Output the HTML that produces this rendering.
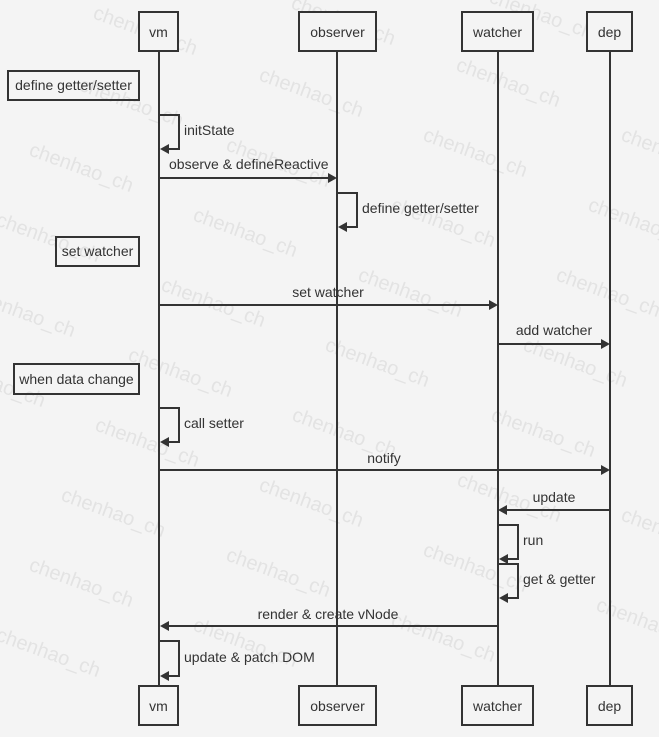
<!DOCTYPE html>
<html><head><meta charset="utf-8"><style>
html,body{margin:0;padding:0;background:#f4f4f4;}
svg{display:block;font-family:"Liberation Sans","DejaVu Sans",sans-serif;}
.w{fill:#e3e3e3;font-size:20px;}
.t{fill:#333;font-size:14px;}
</style></head><body>
<svg width="659" height="737" viewBox="0 0 659 737" xmlns="http://www.w3.org/2000/svg">
<rect width="659" height="737" fill="#f4f4f4"/>
<g class="w">
<text transform="translate(92,18) rotate(20)">chenhao_ch</text>
<text transform="translate(290,8) rotate(20)">chenhao_ch</text>
<text transform="translate(488,2) rotate(20)">chenhao_ch</text>
<text transform="translate(78,90) rotate(20)">chenhao_ch</text>
<text transform="translate(258,80) rotate(20)">chenhao_ch</text>
<text transform="translate(455,70) rotate(20)">chenhao_ch</text>
<text transform="translate(620,140) rotate(20)">chenhao_ch</text>
<text transform="translate(28,155) rotate(20)">chenhao_ch</text>
<text transform="translate(225,150) rotate(20)">chenhao_ch</text>
<text transform="translate(422,140) rotate(20)">chenhao_ch</text>
<text transform="translate(587,210) rotate(20)">chenhao_ch</text>
<text transform="translate(-5,225) rotate(20)">chenhao_ch</text>
<text transform="translate(192,220) rotate(20)">chenhao_ch</text>
<text transform="translate(390,210) rotate(20)">chenhao_ch</text>
<text transform="translate(555,280) rotate(20)">chenhao_ch</text>
<text transform="translate(160,290) rotate(20)">chenhao_ch</text>
<text transform="translate(357,280) rotate(20)">chenhao_ch</text>
<text transform="translate(-30,300) rotate(20)">chenhao_ch</text>
<text transform="translate(522,350) rotate(20)">chenhao_ch</text>
<text transform="translate(127,360) rotate(20)">chenhao_ch</text>
<text transform="translate(324,350) rotate(20)">chenhao_ch</text>
<text transform="translate(-60,370) rotate(20)">chenhao_ch</text>
<text transform="translate(490,420) rotate(20)">chenhao_ch</text>
<text transform="translate(94,430) rotate(20)">chenhao_ch</text>
<text transform="translate(291,420) rotate(20)">chenhao_ch</text>
<text transform="translate(456,485) rotate(20)">chenhao_ch</text>
<text transform="translate(60,500) rotate(20)">chenhao_ch</text>
<text transform="translate(258,490) rotate(20)">chenhao_ch</text>
<text transform="translate(620,520) rotate(20)">chenhao_ch</text>
<text transform="translate(28,570) rotate(20)">chenhao_ch</text>
<text transform="translate(225,560) rotate(20)">chenhao_ch</text>
<text transform="translate(422,555) rotate(20)">chenhao_ch</text>
<text transform="translate(-5,640) rotate(20)">chenhao_ch</text>
<text transform="translate(192,630) rotate(20)">chenhao_ch</text>
<text transform="translate(390,625) rotate(20)">chenhao_ch</text>
<text transform="translate(595,610) rotate(20)">chenhao_ch</text>
</g>
<g stroke="#333" stroke-width="2" fill="none">
<line x1="159" y1="51" x2="159" y2="686"/>
<line x1="337" y1="51" x2="337" y2="686"/>
<line x1="498" y1="51" x2="498" y2="686"/>
<line x1="610" y1="51" x2="610" y2="686"/>
<rect x="139" y="12" width="39" height="39" fill="#f4f4f4"/>
<rect x="299" y="12" width="77" height="39" fill="#f4f4f4"/>
<rect x="462" y="12" width="71" height="39" fill="#f4f4f4"/>
<rect x="587" y="12" width="45" height="39" fill="#f4f4f4"/>
<rect x="139" y="686" width="39" height="39" fill="#f4f4f4"/>
<rect x="299" y="686" width="77" height="39" fill="#f4f4f4"/>
<rect x="462" y="686" width="71" height="39" fill="#f4f4f4"/>
<rect x="587" y="686" width="45" height="39" fill="#f4f4f4"/>
<rect x="8" y="71" width="131" height="29"/>
<rect x="56" y="237" width="83" height="29"/>
<rect x="14" y="364" width="125" height="30"/>
<!-- self loops -->
<polyline points="160,115 179,115 179,149 166,149"/>
<polyline points="338,193 357,193 357,227 344,227"/>
<polyline points="160,408 179,408 179,442 166,442"/>
<polyline points="499,525 518,525 518,559 505,559"/>
<polyline points="499,564 518,564 518,598 505,598"/>
<polyline points="160,641 179,641 179,676 166,676"/>
<!-- messages -->
<line x1="160" y1="178" x2="330" y2="178"/>
<line x1="160" y1="305" x2="491" y2="305"/>
<line x1="499" y1="344" x2="603" y2="344"/>
<line x1="160" y1="470" x2="603" y2="470"/>
<line x1="609" y1="510" x2="505" y2="510"/>
<line x1="497" y1="626" x2="166" y2="626"/>
</g>
<g fill="#333">
<polygon points="160,149 169,144 169,154"/>
<polygon points="338,227 347,222 347,232"/>
<polygon points="160,442 169,437 169,447"/>
<polygon points="499,559 508,554 508,564"/>
<polygon points="499,598 508,593 508,603"/>
<polygon points="160,676 169,671 169,681"/>
<polygon points="337,178 328,173 328,183"/>
<polygon points="498,305 489,300 489,310"/>
<polygon points="610,344 601,339 601,349"/>
<polygon points="610,470 601,465 601,475"/>
<polygon points="498,510 507,505 507,515"/>
<polygon points="160,626 169,621 169,631"/>
</g>
<g class="t">
<text x="158.5" y="37" text-anchor="middle">vm</text>
<text x="337.5" y="37" text-anchor="middle">observer</text>
<text x="497.5" y="37" text-anchor="middle">watcher</text>
<text x="609.5" y="37" text-anchor="middle">dep</text>
<text x="158.5" y="711" text-anchor="middle">vm</text>
<text x="337.5" y="711" text-anchor="middle">observer</text>
<text x="497.5" y="711" text-anchor="middle">watcher</text>
<text x="609.5" y="711" text-anchor="middle">dep</text>
<text x="73.5" y="90" text-anchor="middle">define getter/setter</text>
<text x="97.5" y="256" text-anchor="middle">set watcher</text>
<text x="76.5" y="384" text-anchor="middle">when data change</text>
<text x="184" y="135">initState</text>
<text x="169" y="169">observe &amp; defineReactive</text>
<text x="362" y="213">define getter/setter</text>
<text x="328" y="297" text-anchor="middle">set watcher</text>
<text x="554" y="335" text-anchor="middle">add watcher</text>
<text x="184" y="428">call setter</text>
<text x="384" y="463" text-anchor="middle">notify</text>
<text x="554" y="502" text-anchor="middle">update</text>
<text x="523" y="545">run</text>
<text x="523" y="584">get &amp; getter</text>
<text x="328" y="619" text-anchor="middle">render &amp; create vNode</text>
<text x="184" y="662">update &amp; patch DOM</text>
</g>
</svg>
</body></html>
